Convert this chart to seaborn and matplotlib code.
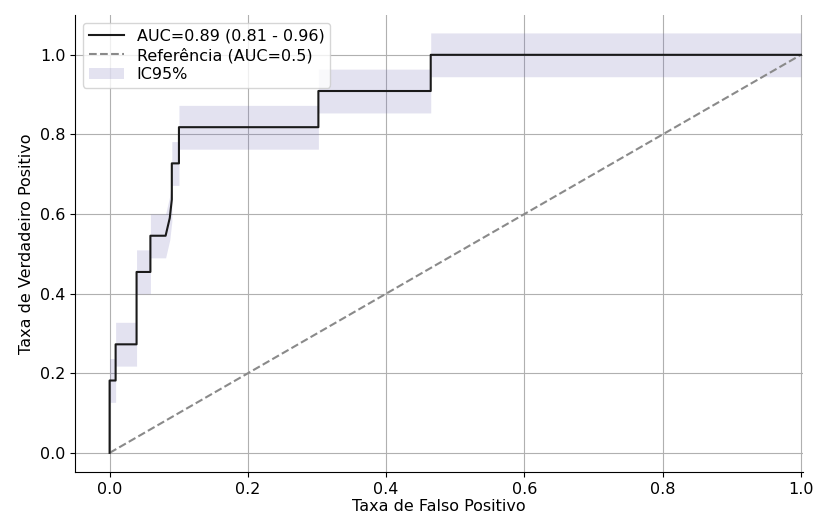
import matplotlib
matplotlib.use("Agg")
import matplotlib.pyplot as plt
import seaborn as sns
import pandas as pd

# ROC curve points
fpr = [0.0, 0.0, 0.0087, 0.0087, 0.039, 0.039, 0.059, 0.059, 0.081, 0.087,
       0.090, 0.090, 0.1003, 0.1003, 0.302, 0.302, 0.4645, 0.4645, 1.0]
tpr = [0.0, 0.1818, 0.1818, 0.2727, 0.2727, 0.4545, 0.4545, 0.5455, 0.5455, 0.59,
       0.6364, 0.7273, 0.7273, 0.8182, 0.8182, 0.9091, 0.9091, 1.0, 1.0]
ci_low = [-0.055, 0.127, 0.127, 0.218, 0.218, 0.400, 0.400, 0.490, 0.490, 0.535,
          0.581, 0.672, 0.672, 0.763, 0.763, 0.854, 0.854, 0.945, 0.945]
ci_high = [0.055, 0.237, 0.237, 0.328, 0.328, 0.510, 0.510, 0.600, 0.600, 0.645,
           0.691, 0.782, 0.782, 0.873, 0.873, 0.964, 0.964, 1.055, 1.055]
ref_x = [0.0, 1.0]
ref_y = [0.0, 1.0]

auc_label = "AUC=0.89 (0.81 - 0.96)"
ref_label = "Refer\u00eancia (AUC=0.5)"
ci_label = "IC95%"

df = pd.DataFrame({"fpr": fpr, "tpr": tpr, "lo": ci_low, "hi": ci_high})
ref = pd.DataFrame({"x": ref_x, "y": ref_y})

plt.rcParams["font.family"] = ["DejaVu Sans"]
fig = plt.figure(figsize=(8.13, 5.16), dpi=100)
ax = fig.add_axes([0.0923, 0.0853, 0.8954, 0.8856])

fs = 11.5
band_color = (0.45, 0.43, 0.72)
ax.fill_between(df["fpr"], df["lo"], df["hi"], color=band_color, alpha=0.2,
                linewidth=0, label=ci_label, zorder=2)
sns.lineplot(data=df, x="fpr", y="tpr", ax=ax, estimator=None, sort=False,
             color="#1a1a1a", linewidth=1.5, label=auc_label, zorder=4)
sns.lineplot(data=ref, x="x", y="y", ax=ax, estimator=None, sort=False,
             color="#8a8a8a", linewidth=1.5, linestyle="--", label=ref_label, zorder=3)

ax.set_xlim(-0.05, 1.003)
ax.set_ylim(-0.048, 1.1)
ax.set_xticks([0.0, 0.2, 0.4, 0.6, 0.8, 1.0])
ax.set_yticks([0.0, 0.2, 0.4, 0.6, 0.8, 1.0])
ax.grid(True, color="#b0b0b0", linewidth=0.8, zorder=0)
ax.set_axisbelow(True)
ax.tick_params(labelsize=fs)
ax.set_xlabel("Taxa de Falso Positivo", fontsize=fs, labelpad=2)
ax.set_ylabel("Taxa de Verdadeiro Positivo", fontsize=fs)
sns.despine(ax=ax)

handles, labels = ax.get_legend_handles_labels()
order = [labels.index(auc_label), labels.index(ref_label), labels.index(ci_label)]
ax.legend([handles[i] for i in order], [labels[i] for i in order], loc="upper left",
          fontsize=fs, labelspacing=0.25, handlelength=2.2, borderpad=0.35)

fig.savefig("out.png", dpi=100)
